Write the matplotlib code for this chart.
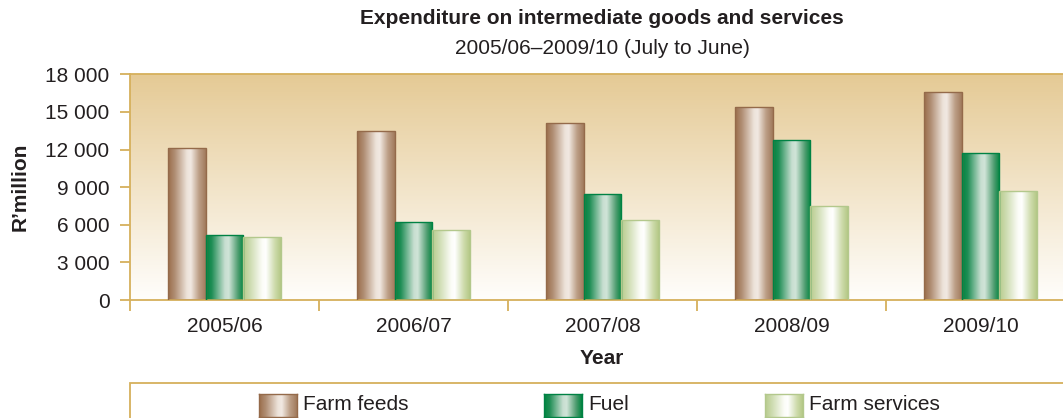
import numpy as np
import matplotlib
matplotlib.use('Agg')
import matplotlib.pyplot as plt
from matplotlib.patches import Rectangle
from matplotlib.colors import to_rgb

plt.rcParams['font.family'] = ['Liberation Sans', 'DejaVu Sans']

# ---- data ----
years = ['2005/06', '2006/07', '2007/08', '2008/09', '2009/10']
farm_feeds = [12100, 13450, 14100, 15400, 16600]
fuel = [5150, 6250, 8450, 12750, 11700]
farm_services = [5050, 5580, 6400, 7500, 8700]
series_names = ['Farm feeds', 'Fuel', 'Farm services']
yticks = [0, 3000, 6000, 9000, 12000, 15000, 18000]
ytick_labels = ['0', '3 000', '6 000', '9 000', '12 000', '15 000', '18 000']
title = 'Expenditure on intermediate goods and services'
subtitle = '2005/06\u20132009/10 (July to June)'
xlabel = 'Year'
ylabel = 'R\u2019million'

# ---- style ----
W, H = 1063, 418
GOLD = '#D6B05C'
TXT = '#231F20'
FS = 15

stops = {
    'Farm feeds': [(0.0, '#9A6D4A'), (0.18, '#B08E74'), (0.5, '#EDE3DA'), (0.6, '#F1E9E2'),
                   (0.82, '#BC9E86'), (1.0, '#A17A5C')],
    'Fuel': [(0.0, '#00843F'), (0.15, '#1F8E55'), (0.5, '#C8DFD1'), (0.6, '#D0E4D8'),
             (0.85, '#4C9C6E'), (1.0, '#00843F')],
    'Farm services': [(0.0, '#B7CB8C'), (0.2, '#CFDDB3'), (0.5, '#FBFCF6'), (0.6, '#FFFFFF'),
                      (0.85, '#CCDAA9'), (1.0, '#B4C886')],
}
edges = {'Farm feeds': '#946A4A', 'Fuel': '#008244', 'Farm services': '#B3C88C'}


def gradient(name, n=256):
    pts = stops[name]
    pos = np.array([p for p, _ in pts])
    cols = np.array([to_rgb(c) for _, c in pts])
    t = np.linspace(0, 1, n)
    arr = np.stack([np.interp(t, pos, cols[:, k]) for k in range(3)], axis=-1)
    return arr[np.newaxis, :, :]


fig = plt.figure(figsize=(W / 100, H / 100), dpi=100)
fig.patch.set_facecolor('white')
ax = fig.add_axes([130 / W, (H - 300) / H, 945 / W, 225.7 / H])

# background gradient
tb = np.linspace(0, 1, 256)
top = np.array(to_rgb('#E5CA95'))
bot = np.array(to_rgb('#FFFEFC'))
bg = (top[None, :] * (1 - tb[:, None]) + bot[None, :] * tb[:, None])[:, None, :]
ax.imshow(bg, extent=[0, 1, 0, 1], transform=ax.transAxes, aspect='auto', zorder=0,
          interpolation='bilinear')

x = np.arange(len(years))
bw = 0.2
all_series = [farm_feeds, fuel, farm_services]
for i, (name, vals) in enumerate(zip(series_names, all_series)):
    bars = ax.bar(x + (i - 1) * bw, vals, bw, facecolor='none',
                  edgecolor=edges[name], linewidth=1.0, zorder=3)
    g = gradient(name)
    for r in bars:
        im = ax.imshow(g, extent=[r.get_x(), r.get_x() + r.get_width(), 0, r.get_height()],
                       aspect='auto', zorder=2, interpolation='bilinear')
        im.set_clip_path(r)

ax.set_xlim(-0.5, len(years) - 0.5)
ax.set_ylim(0, 18000)

for s in ['left', 'bottom', 'top']:
    ax.spines[s].set_color(GOLD)
    ax.spines[s].set_linewidth(1.3)
ax.spines['right'].set_visible(False)

ax.set_yticks(yticks)
ax.set_yticklabels(ytick_labels)
ax.tick_params(axis='y', direction='out', length=7.2, width=1.3, color=GOLD,
               labelsize=FS, labelcolor=TXT, pad=7.5)
ax.set_xticks(x)
ax.set_xticklabels(years)
ax.set_xticks(np.arange(len(years) + 1) - 0.5, minor=True)
ax.tick_params(axis='x', which='major', length=0, labelsize=FS, labelcolor=TXT, pad=12)
ax.tick_params(axis='x', which='minor', direction='out', length=7.8, width=1.3, color=GOLD)

cx = 602 / W
fig.text(cx, 1 - 19 / H, title, ha='center', va='center', fontsize=FS,
         fontweight='bold', color=TXT)
fig.text(cx, 1 - 48 / H, subtitle, ha='center', va='center', fontsize=FS, color=TXT)
fig.text(cx, 1 - 358 / H, xlabel, ha='center', va='center', fontsize=FS,
         fontweight='bold', color=TXT)
fig.text(20 / W, 1 - 187 / H, ylabel, ha='center', va='center', fontsize=FS,
         fontweight='bold', color=TXT, rotation=90)

# legend box
fig.add_artist(Rectangle((130 / W, -0.05), 1.0, (H - 383.3) / H + 0.05,
                         transform=fig.transFigure, fill=False, edgecolor=GOLD, lw=1.3))
leg_x = [259, 544, 765]
for name, lx in zip(series_names, leg_x):
    lax = fig.add_axes([lx / W, (H - 417) / H, 38 / W, 23 / H])
    lax.imshow(gradient(name), extent=[0, 1, 0, 1], aspect='auto', interpolation='bilinear')
    lax.set_xlim(0, 1)
    lax.set_ylim(0, 1)
    lax.set_xticks([])
    lax.set_yticks([])
    for s in lax.spines.values():
        s.set_color(edges[name])
        s.set_linewidth(1.0)
    fig.text((lx + 44) / W, 1 - 405 / H, name, ha='left', va='center', fontsize=FS, color=TXT)

fig.savefig('out.png', dpi=100)
